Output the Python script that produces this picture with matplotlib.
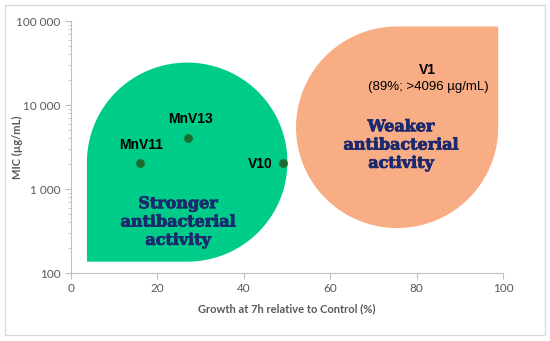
import numpy as np
import matplotlib
matplotlib.use("Agg")
import matplotlib.pyplot as plt
import matplotlib.patheffects as pe
from matplotlib.patches import Rectangle
from matplotlib.ticker import FixedLocator, FuncFormatter, LogLocator

# compounds: growth at 7h (% of control) and MIC (ug/mL)
names = ["MnV11", "MnV13", "V10"]
growth = [16, 27, 49]
mic = [2048, 4096, 2048]

v1_label = "V1"
v1_note = "(89%; >4096 \u00b5g/mL)"

region_text = ["Stronger\nantibacterial\nactivity", "Weaker\nantibacterial\nactivity"]

x_ticks = [0, 20, 40, 60, 80, 100]
y_ticks = [100, 1000, 10000, 100000]

gray = "#595959"
navy = "#1b2a6e"


def teardrop(cx, cy_log, rx, ry_log, corner, n=120):
    """circle in (x, log10 y) with one square quadrant; corner = 'll' or 'ur'"""
    if corner == "ll":
        t = np.linspace(-np.pi / 2, np.pi, n)
        xs = list(cx + rx * np.cos(t)) + [cx - rx, cx - rx]
        ys = list(cy_log + ry_log * np.sin(t)) + [cy_log - ry_log, cy_log - ry_log]
    else:
        t = np.linspace(np.pi / 2, 2 * np.pi, n)
        xs = list(cx + rx * np.cos(t)) + [cx + rx, cx + rx]
        ys = list(cy_log + ry_log * np.sin(t)) + [cy_log + ry_log, cy_log + ry_log]
    return np.array(xs), 10 ** np.array(ys)


fig = plt.figure(figsize=(5.5, 3.41), dpi=100)
fig.patches.append(Rectangle((0.009, 0.018), 0.982, 0.967, transform=fig.transFigure,
                             fill=False, edgecolor="#d9d9d9", linewidth=1.0))
ax = fig.add_axes([0.129, 0.1994, 0.7855, 0.739])
ax.set_yscale("log")
ax.set_xlim(0, 100)
ax.set_ylim(100, 100000)

gx, gy = teardrop(26.9, 3.32, 23.2, 1.185, "ll")
ax.fill(gx, gy, color="#00cc8a", lw=0, zorder=1)
ox, oy = teardrop(75.5, 3.735, 23.4, 1.2, "ur")
ax.fill(ox, oy, color="#f8ad84", lw=0, zorder=1)

ax.scatter(growth, mic, s=28, color="#1d6b2c", zorder=3)
label_off = {"MnV11": (1, 8, "center", "bottom"),
             "MnV13": (2, 8, "center", "bottom"),
             "V10": (-7, -1, "right", "center")}
for n, gx_, my in zip(names, growth, mic):
    dx, dy, ha, va = label_off[n]
    ax.annotate(n, (gx_, my), xytext=(dx, dy), textcoords="offset points",
                ha=ha, va=va, fontsize=10, fontweight="bold",
                family="Liberation Sans", color="black", zorder=4)

ax.text(82.5, 26100, v1_label, ha="center", va="center", fontsize=10,
        fontweight="bold", family="Liberation Sans")
ax.text(82.7, 16400, v1_note, ha="center", va="center", fontsize=9.5,
        family="Liberation Sans")

thick = [pe.withStroke(linewidth=0.6, foreground=navy)]
ax.text(24.8, 405, region_text[0], ha="center", va="center", fontsize=11.5,
        fontweight="bold", family="DejaVu Serif", color=navy, linespacing=1.1,
        path_effects=thick)
ax.text(76.4, 3340, region_text[1], ha="center", va="center", fontsize=11.5,
        fontweight="bold", family="DejaVu Serif", color=navy, linespacing=1.1,
        path_effects=thick)

ax.xaxis.set_major_locator(FixedLocator(x_ticks))
ax.yaxis.set_major_locator(FixedLocator(y_ticks))
ax.yaxis.set_minor_locator(LogLocator(base=10, subs=np.arange(2, 10)))
ax.yaxis.set_major_formatter(FuncFormatter(lambda v, p: f"{int(v):,}".replace(",", " ")))
ax.yaxis.set_minor_formatter(FuncFormatter(lambda v, p: ""))

for s in ["top", "right"]:
    ax.spines[s].set_visible(False)
for s in ["left", "bottom"]:
    ax.spines[s].set_color("#bfbfbf")
    ax.spines[s].set_linewidth(0.8)
ax.tick_params(which="major", direction="out", length=4, color="#bfbfbf",
               labelcolor=gray, labelsize=8.5)
ax.tick_params(which="minor", direction="out", length=2, color="#bfbfbf")
for lab in ax.get_xticklabels() + ax.get_yticklabels():
    lab.set_family("Lato")

ax.set_xlabel("Growth at 7h relative to Control (%)", family="Lato", fontweight="bold",
              fontsize=8, color=gray, labelpad=6)
ax.set_ylabel("MIC (\u00b5g/mL)", family="Lato", fontweight="bold",
              fontsize=8, color=gray)
ax.yaxis.set_label_coords(-0.11, 0.5)

fig.savefig("out.png", dpi=100)
